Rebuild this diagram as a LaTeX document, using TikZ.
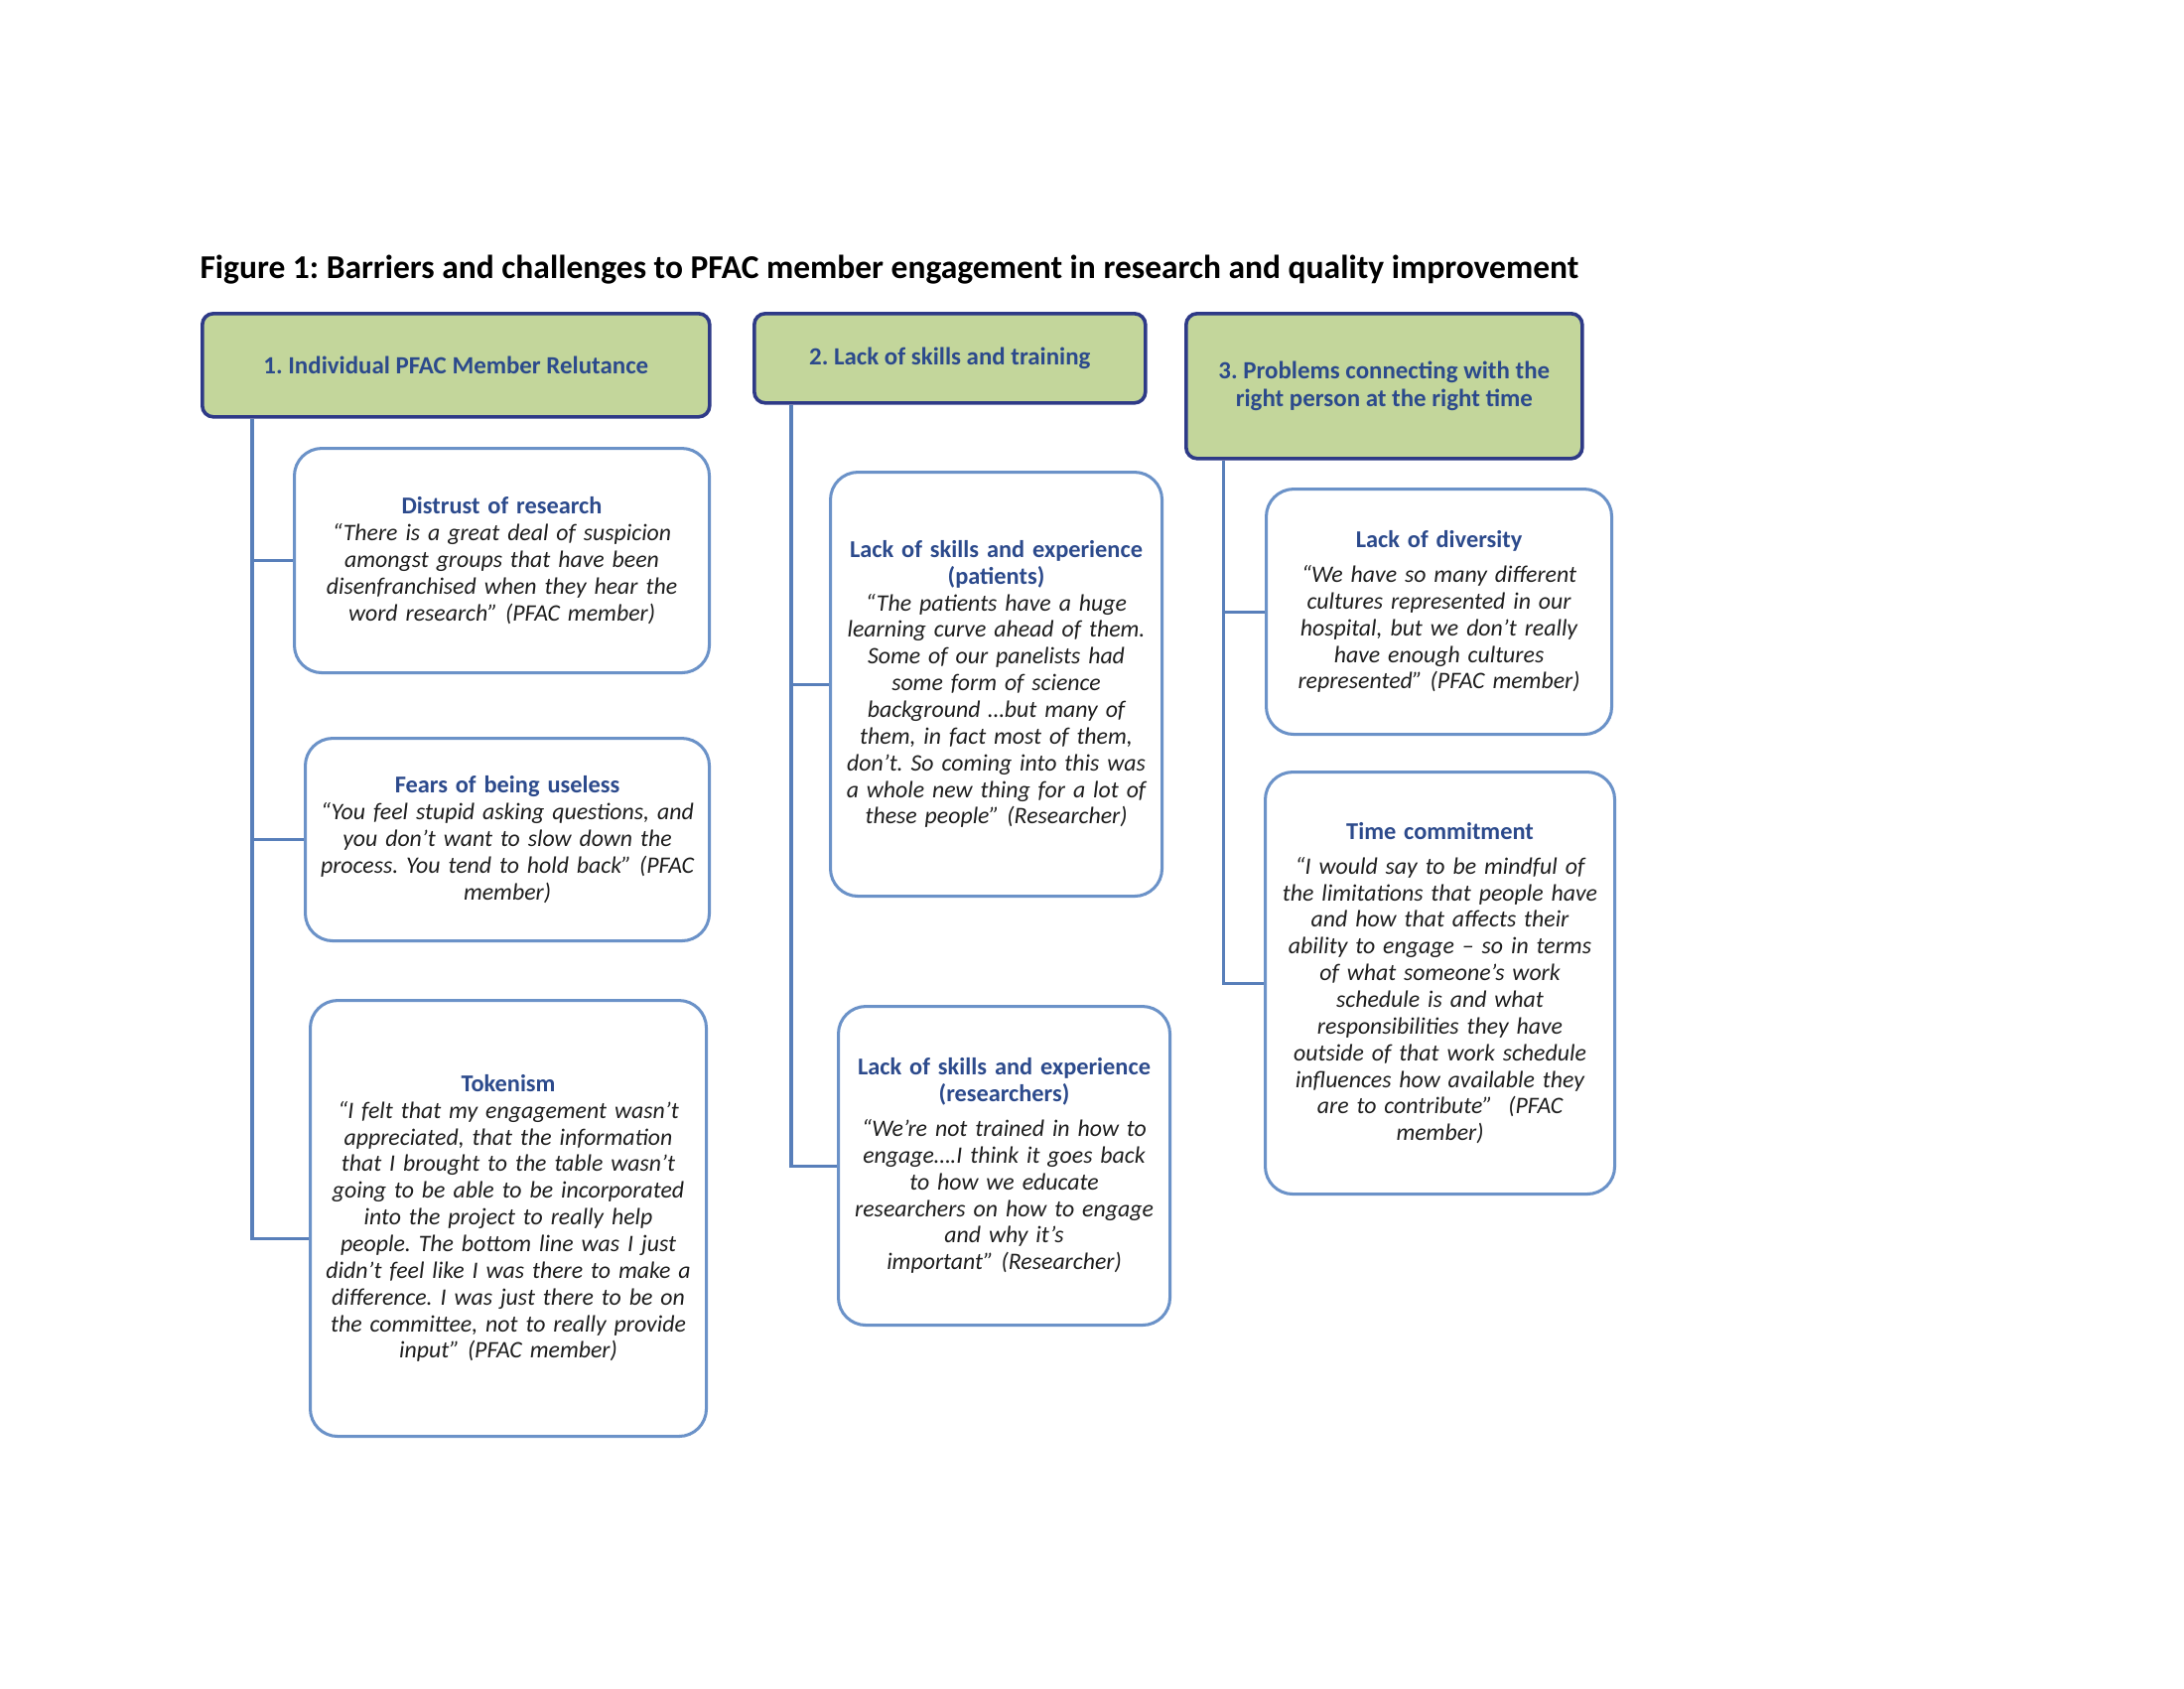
\documentclass[tikz,border=0pt]{standalone}
\usepackage{fontspec}
\setmainfont{Carlito}
\usepackage{xcolor}
\usepackage{tikz}
\usetikzlibrary{positioning}

\definecolor{headfill}{HTML}{C3D69B}
\definecolor{headline}{RGB}{46,58,135}
\definecolor{headtext}{RGB}{44,74,140}
\definecolor{quoteline}{RGB}{107,146,200}
\definecolor{linkline}{RGB}{88,127,186}
\definecolor{quotetext}{RGB}{30,30,30}

\newcommand{\pix}{0.0127cm}
\newcommand{\qtitle}[1]{{\fontsize{8.8}{9.7}\selectfont\bfseries\upshape\color{headtext}#1}}
\frenchspacing

\begin{document}
\begin{tikzpicture}[
    x=0.0127cm, y=-0.0127cm,
    head/.style={rectangle, rounded corners=4pt, draw=headline, line width=1.3pt, fill=headfill,
        anchor=north west, align=center, text=headtext, font=\fontsize{9}{9.8}\selectfont\bfseries},
    quote/.style={rectangle, rounded corners=10pt, draw=quoteline, line width=1.1pt, fill=white,
        anchor=north west, align=center, inner sep=2pt, text=quotetext, font=\fontsize{8.6}{9.7}\selectfont\itshape},
    link/.style={draw=linkline, line width=1.1pt}
]
\useasboundingbox (0,0) rectangle (2200,1700);

\node[anchor=west, font=\fontsize{12.1}{14}\selectfont\bfseries, text=black, inner sep=0pt] (title) at (201,272)
    {Figure 1: Barriers and challenges to PFAC member engagement in research and quality improvement};

% column headers
\node[head, minimum width=511*\pix, minimum height=104*\pix] (reluct) at (202,314) {1. Individual PFAC Member Relutance};
\node[head, minimum width=394*\pix, minimum height=90*\pix] (skills) at (758,314) {2. Lack of skills and training};
\node[head, minimum width=399*\pix, minimum height=146*\pix] (connect) at (1193,314) {3. Problems connecting with the\\right person at the right time};

% column 1
\node[quote, minimum width=418*\pix, minimum height=226*\pix, text width=400*\pix] (distrust) at (295,450)
    {\qtitle{Distrust of research}\\
     “There is a great deal of suspicion\\amongst groups that have been\\disenfranchised when they hear the\\word research" (PFAC member)};
\node[quote, minimum width=407*\pix, minimum height=204*\pix, text width=390*\pix] (fears) at (306,742)
    {\qtitle{Fears of being useless}\\
     “You feel stupid asking questions, and\\you don’t want to slow down the\\process. You tend to hold back” (PFAC\\member)};
\node[quote, minimum width=399*\pix, minimum height=439*\pix, text width=382*\pix] (token) at (311,1006)
    {\qtitle{Tokenism}\\
     “I felt that my engagement wasn’t\\appreciated, that the information\\that I brought to the table wasn’t\\going to be able to be incorporated\\into the project to really help\\people. The bottom line was I just\\didn’t feel like I was there to make a\\difference. I was just there to be on\\the committee, not to really provide\\input” (PFAC member)};

% column 2
\node[quote, minimum width=334*\pix, minimum height=427*\pix, text width=318*\pix] (patients) at (835,474)
    {\qtitle{Lack of skills and experience}\\\qtitle{(patients)}\\
     “The patients have a huge\\learning curve ahead of them.\\Some of our panelists had\\some form of science\\background …but many of\\them, in fact most of them,\\don’t. So coming into this was\\a whole new thing for a lot of\\these people” (Researcher)};
\node[quote, minimum width=334*\pix, minimum height=321*\pix, text width=318*\pix] (researchers) at (843,1012)
    {\qtitle{Lack of skills and experience}\\\qtitle{(researchers)}\\[3pt]
     “We’re not trained in how to\\engage….I think it goes back\\to how we educate\\researchers on how to engage\\and why it’s\\important” (Researcher)};

% column 3
\node[quote, minimum width=348*\pix, minimum height=247*\pix, text width=330*\pix] (diversity) at (1274,491)
    {\qtitle{Lack of diversity}\\[3pt]
     “We have so many different\\cultures represented in our\\hospital, but we don’t really\\have enough cultures\\represented” (PFAC member)};
\node[quote, minimum width=352*\pix, minimum height=425*\pix, text width=335*\pix] (timecom) at (1273,776)
    {\qtitle{Time commitment}\\[3pt]
     “I would say to be mindful of\\the limitations that people have\\and how that affects their\\ability to engage – so in terms\\of what someone’s work\\schedule is and what\\responsibilities they have\\outside of that work schedule\\influences how available they\\are to contribute”~ (PFAC\\member)};

% connectors
\draw[link] ([shift={(52,0)}]reluct.south west) |- (distrust.west);
\draw[link] ([shift={(52,0)}]reluct.south west) |- (fears.west);
\draw[link] ([shift={(52,0)}]reluct.south west) |- ([shift={(0,20)}]token.west);
\draw[link] ([shift={(39,0)}]skills.south west) |- (patients.west);
\draw[link] ([shift={(39,0)}]skills.south west) |- (researchers.west);
\draw[link] ([shift={(39,0)}]connect.south west) |- (diversity.west);
\draw[link] ([shift={(39,0)}]connect.south west) |- (timecom.west);
\end{tikzpicture}
\end{document}
